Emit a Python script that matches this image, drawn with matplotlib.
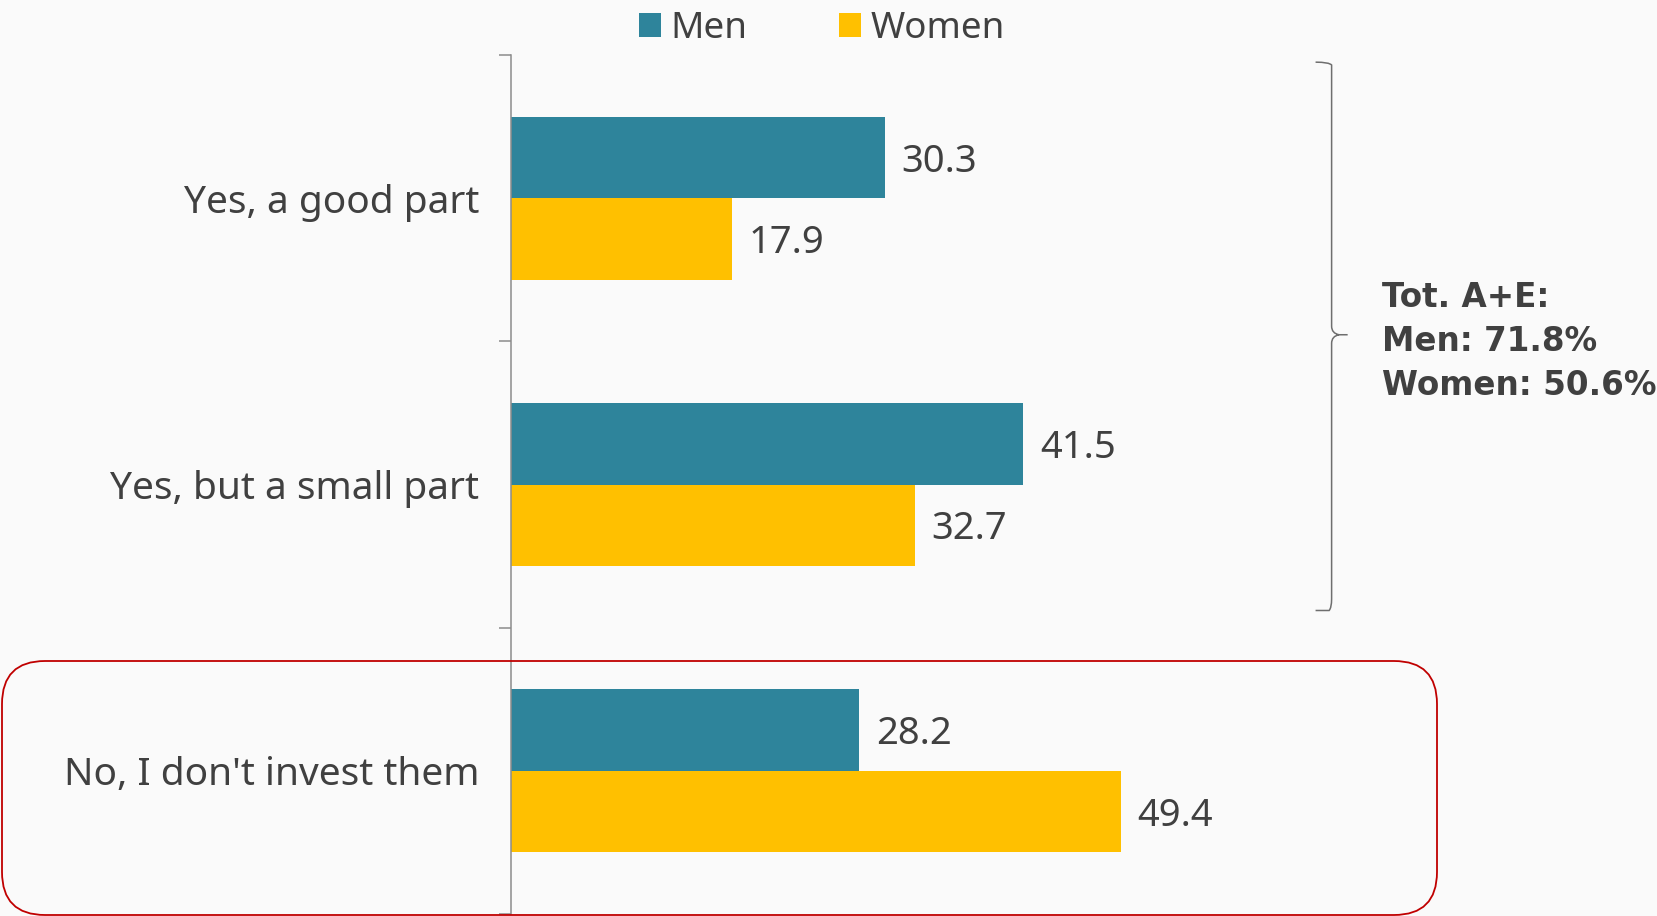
import matplotlib.pyplot as plt
from matplotlib.path import Path
from matplotlib.patches import PathPatch, FancyBboxPatch
from matplotlib.transforms import IdentityTransform

categories = ["Yes, a good part", "Yes, but a small part", "No, I don't invest them"]
men = [30.3, 41.5, 28.2]
women = [17.9, 32.7, 49.4]
series_names = ["Men", "Women"]
total_note = "Tot. A+E:\nMen: 71.8%\nWomen: 50.6%"

teal = "#2E849B"
yellow = "#FFC000"
text_col = "#404040"
bg = "#FAFAFA"

plt.rcParams['font.family'] = ['Noto Sans', 'DejaVu Sans']

fig = plt.figure(figsize=(16.57, 9.16), dpi=100, facecolor=bg)
ax = fig.add_axes([511 / 1657, 2 / 916, 1146 / 1657, 859 / 916])
ax.set_facecolor(bg)

ypos = list(range(len(categories)))
h = 0.285
bars_m = ax.barh([y - h / 2 for y in ypos], men, height=h, color=teal, label=series_names[0])
bars_w = ax.barh([y + h / 2 for y in ypos], women, height=h, color=yellow, label=series_names[1])

# value labels next to the bar ends
for bars, vals in [(bars_m, men), (bars_w, women)]:
    for b, v in zip(bars, vals):
        ax.annotate(f"{v:.1f}", (b.get_width(), b.get_y() + b.get_height() / 2),
                    xytext=(12, -3), textcoords='offset points', ha='left', va='center',
                    fontsize=27.5, color=text_col)

ax.set_xlim(0, 1146 / 12.34)
ax.set_ylim(len(categories) - 0.5, -0.5)

# category labels, boundary ticks as minor ticks
ax.set_yticks(ypos)
ax.set_yticklabels(categories, fontsize=28, color=text_col)
ax.set_yticks([y - 0.5 for y in range(len(categories) + 1)], minor=True)
ax.tick_params(axis='y', which='major', length=0, pad=23)
ax.tick_params(axis='y', which='minor', length=9, width=1.1, color="#8C8C8C", direction='out')
ax.set_xticks([])
for side in ['top', 'right', 'bottom']:
    ax.spines[side].set_visible(False)
ax.spines['left'].set_color("#8C8C8C")
ax.spines['left'].set_linewidth(1.1)

# legend
fig.legend(handles=[bars_m, bars_w], labels=series_names, loc='upper center',
           bbox_to_anchor=(0.496, 1.024), ncol=2, frameon=False, fontsize=26.5,
           handlelength=0.6, handleheight=0.6, handletextpad=0.25, columnspacing=2.5,
           labelcolor=text_col)

# curly bracket grouping the two "yes" answers
bx = 66.5
top, mid, bot = -0.475, 0.477, 1.44
verts = [(bx - 1.3, top), (bx - 0.2, top), (bx, top + 0.01), (bx, top + 0.04),
         (bx, mid - 0.03), (bx, mid - 0.005), (bx + 0.6, mid), (bx + 1.3, mid),
         (bx + 0.6, mid), (bx, mid + 0.005), (bx, mid + 0.03),
         (bx, bot - 0.04), (bx, bot - 0.01), (bx - 0.2, bot), (bx - 1.3, bot)]
codes = [Path.MOVETO, Path.CURVE3, Path.CURVE3, Path.LINETO,
         Path.LINETO, Path.CURVE3, Path.CURVE3, Path.LINETO,
         Path.MOVETO, Path.CURVE3, Path.CURVE3,
         Path.LINETO, Path.CURVE3, Path.CURVE3, Path.LINETO]
ax.add_patch(PathPatch(Path(verts, codes), fill=False, edgecolor="#6E6E6E", lw=1.1, clip_on=False))

ax.text(70.6, 0.5, total_note, fontsize=23.5, fontweight='bold', color=text_col,
        family='DejaVu Sans', va='center', ha='left', linespacing=1.42, clip_on=False)

# red rounded box around the "No" answer
box = FancyBboxPatch((2, 1), 1435, 254, boxstyle="round,pad=0,rounding_size=43",
                     transform=IdentityTransform(), fill=False, edgecolor="#C00000", lw=1.3)
fig.add_artist(box)

fig.savefig("out.png", dpi=100, facecolor=bg)
